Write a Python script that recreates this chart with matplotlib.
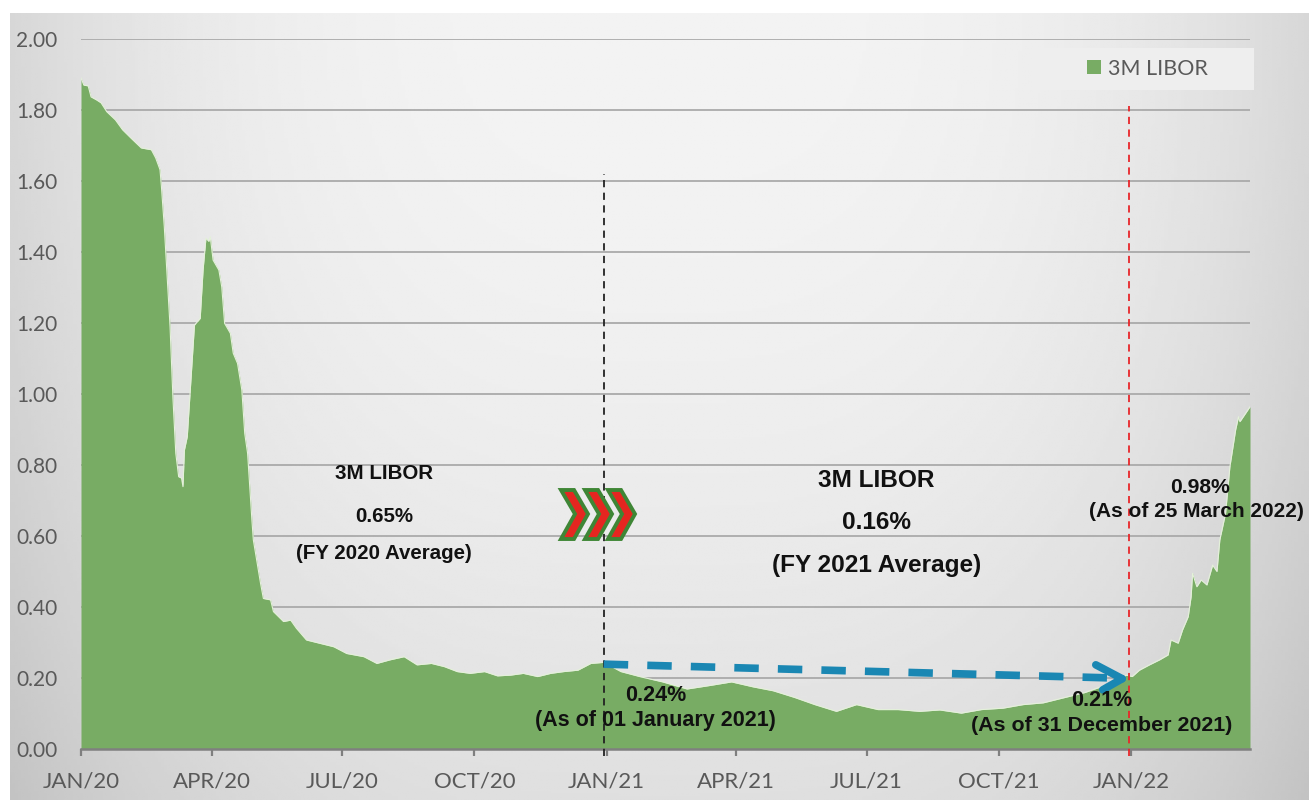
import numpy as np
import pandas as pd
import matplotlib.pyplot as plt
from matplotlib.patches import Polygon, Rectangle

plt.rcParams["font.family"] = ["Lato", "DejaVu Sans"]

# 3M LIBOR
DATES = [
    "2020-01-01", "2020-01-03", "2020-01-06", "2020-01-08", "2020-01-12", "2020-01-15",
    "2020-01-19", "2020-01-25", "2020-01-30", "2020-02-05", "2020-02-12", "2020-02-19",
    "2020-02-22", "2020-02-25", "2020-02-26", "2020-02-28", "2020-03-01", "2020-03-03",
    "2020-03-05", "2020-03-07", "2020-03-09", "2020-03-11", "2020-03-12", "2020-03-13",
    "2020-03-15", "2020-03-18", "2020-03-20", "2020-03-24", "2020-03-26", "2020-03-28",
    "2020-03-30", "2020-03-31", "2020-04-02", "2020-04-06", "2020-04-08", "2020-04-10",
    "2020-04-14", "2020-04-16", "2020-04-19", "2020-04-22", "2020-04-24", "2020-04-26",
    "2020-04-29", "2020-04-30", "2020-05-05", "2020-05-07", "2020-05-12", "2020-05-14",
    "2020-05-21", "2020-05-26", "2020-05-30", "2020-06-06", "2020-06-15", "2020-06-25",
    "2020-07-04", "2020-07-16", "2020-07-25", "2020-08-03", "2020-08-13", "2020-08-22",
    "2020-09-01", "2020-09-10", "2020-09-19", "2020-09-28", "2020-10-08", "2020-10-17",
    "2020-10-26", "2020-11-04", "2020-11-14", "2020-11-23", "2020-12-02", "2020-12-12",
    "2020-12-21", "2020-12-30",
    "2021-01-11", "2021-01-25", "2021-02-09", "2021-02-26", "2021-03-14", "2021-03-29",
    "2021-04-13", "2021-04-27", "2021-05-12", "2021-05-26", "2021-06-10", "2021-06-24",
    "2021-07-09", "2021-07-23", "2021-08-07", "2021-08-21", "2021-09-05", "2021-09-19",
    "2021-10-04", "2021-10-18", "2021-11-01", "2021-11-16", "2021-11-30", "2021-12-14",
    "2021-12-29",
    "2022-01-02", "2022-01-07", "2022-01-14", "2022-01-21", "2022-01-27", "2022-01-29",
    "2022-02-03", "2022-02-06", "2022-02-10", "2022-02-12", "2022-02-13", "2022-02-16",
    "2022-02-19", "2022-02-23", "2022-02-27", "2022-03-02", "2022-03-04", "2022-03-08",
    "2022-03-11", "2022-03-15", "2022-03-17", "2022-03-18", "2022-03-22", "2022-03-25",
]
RATES = [
    1.89, 1.87, 1.868, 1.837, 1.828, 1.82,
    1.795, 1.772, 1.744, 1.72, 1.693, 1.688,
    1.665, 1.632, 1.584, 1.471, 1.33, 1.19,
    0.99, 0.833, 0.767, 0.763, 0.739, 0.842,
    0.88, 1.068, 1.194, 1.213, 1.349, 1.439,
    1.43, 1.443, 1.377, 1.349, 1.302, 1.199,
    1.171, 1.115, 1.086, 1.011, 0.889, 0.833,
    0.645, 0.589, 0.467, 0.424, 0.42, 0.387,
    0.359, 0.363, 0.34, 0.307, 0.298, 0.288,
    0.269, 0.26, 0.241, 0.251, 0.26, 0.237,
    0.241, 0.232, 0.218, 0.213, 0.218, 0.206,
    0.208, 0.213, 0.204, 0.213, 0.218, 0.222,
    0.241, 0.244,
    0.218, 0.203, 0.189, 0.169, 0.179, 0.189,
    0.175, 0.164, 0.145, 0.125, 0.106, 0.125,
    0.111, 0.111, 0.106, 0.11, 0.101, 0.111,
    0.115, 0.125, 0.13, 0.145, 0.159, 0.179,
    0.208,
    0.204, 0.222, 0.237, 0.251, 0.265, 0.307,
    0.298, 0.335, 0.373, 0.429, 0.495, 0.457,
    0.476, 0.462, 0.518, 0.5, 0.589, 0.664,
    0.795, 0.899, 0.936, 0.922, 0.946, 0.964,
]

TICK_DATES = ["2020-01-01", "2020-04-01", "2020-07-01", "2020-10-01", "2021-01-01",
              "2021-04-01", "2021-07-01", "2021-10-01", "2022-01-01"]
TICK_LABELS = ["JAN/20", "APR/20", "JUL/20", "OCT/20", "JAN/21",
               "APR/21", "JUL/21", "OCT/21", "JAN/22"]
Y_TICKS = [0.0, 0.2, 0.4, 0.6, 0.8, 1.0, 1.2, 1.4, 1.6, 1.8, 2.0]

START_MARK = "2020-12-30"   # 0.24% start of 2021
END_MARK = "2021-12-31"     # 0.21% end of 2021
START_RATE, END_RATE = 0.239, 0.198

C_AREA = "#78ac64"
C_TEXT = "#111111"
C_TICK = "#595959"
C_GRID = "#aaaaaa"
C_BLUE = "#1a87b3"

dates = pd.to_datetime(DATES)
W, H = 1309, 800
fig = plt.figure(figsize=(W / 100, H / 100), dpi=100, facecolor="white")

# soft grey gradient panel behind the chart
bg = fig.add_axes([10 / W, 0, 1 - 10 / W, 1 - 13 / H], zorder=0)
U, V = np.meshgrid(np.linspace(0, 1, 400), np.linspace(0, 1, 300))
shade = 243 - 28 * np.abs(2 * U - 1) ** 3 - 20 * V ** 2
bg.imshow(shade, cmap="gray", vmin=0, vmax=255, aspect="auto",
          extent=[0, 1, 0, 1], origin="upper")
bg.axis("off")

ax = fig.add_axes([81 / W, 1 - 749 / H, 1169 / W, 710 / H], zorder=1)
ax.patch.set_alpha(0)

ax.fill_between(dates, RATES, 0, color=C_AREA, lw=0, zorder=2, label="3M LIBOR")
ax.plot(dates, RATES, color="#e4f1d9", lw=0.8, zorder=2.5)

ax.set_xlim(dates[0], dates[-1])
ax.set_ylim(0, 2.0)
ax.set_yticks(Y_TICKS)
ax.set_yticklabels([f"{t:.2f}" for t in Y_TICKS])
ax.set_xticks(pd.to_datetime(TICK_DATES))
ax.set_xticklabels(TICK_LABELS)
ax.set_axisbelow(True)
ax.grid(axis="y", color=C_GRID, lw=1.3)
ax.grid(axis="x", visible=False)
for side in ("top", "left", "right"):
    ax.spines[side].set_visible(False)
ax.spines["bottom"].set_color("#7f7f7f")
ax.spines["bottom"].set_linewidth(1.8)
ax.spines["bottom"].set_zorder(3)
ax.tick_params(axis="x", direction="out", length=5, width=1.6, color="#7f7f7f",
               labelsize=16, labelcolor=C_TICK, pad=11)
ax.tick_params(axis="y", length=0, labelsize=15, labelcolor=C_TICK, pad=17)

# reference markers
x0, x1 = pd.Timestamp(START_MARK), pd.Timestamp(END_MARK)
ax.plot([x0, x0], [-0.02, 1.62], color="#222222", lw=1.3, ls=(0, (4, 3)),
        clip_on=False, zorder=4)
ax.plot([x1, x1], [-0.02, 1.81], color="#e8262a", lw=1.3, ls=(0, (4, 3)),
        clip_on=False, zorder=4)

# dashed blue arrow from start-of-year to end-of-year level
tip = x1 - pd.Timedelta(days=5)
ax.plot([x0, tip - pd.Timedelta(days=6)], [START_RATE, END_RATE + 0.002],
        color=C_BLUE, lw=5.5, ls=(0, (3.2, 2.5)), solid_capstyle="butt", zorder=5)
for dx, dy in ((-19, 10), (-14, -8)):
    ax.annotate("", xy=(tip, END_RATE), xytext=(dx, dy), textcoords="offset points",
                arrowprops=dict(arrowstyle="-", lw=5.5, color=C_BLUE,
                                shrinkA=0, shrinkB=0, capstyle="round"),
                zorder=5)

# chevrons
chev = np.array([(0, 0), (13, 0), (27, 24), (13, 49), (0, 49), (14, 24)], float)
for off in (0, 24, 47):
    pts = [((561 + off + px) / W, 1 - (490 + py) / H) for px, py in chev]
    fig.add_artist(Polygon(pts, closed=True, transform=fig.transFigure,
                           facecolor="#e52620", edgecolor="#3e8635", lw=2.8,
                           zorder=6))

# text annotations
bold = dict(ha="center", va="center", color=C_TEXT, fontweight="bold",
            family=["Liberation Sans", "DejaVu Sans"], zorder=7)
ax.text(pd.Timestamp("2020-07-30"), 0.775, "3M LIBOR", fontsize=14.8, **bold)
ax.text(pd.Timestamp("2020-07-30"), 0.654, "0.65%", fontsize=14.8, **bold)
ax.text(pd.Timestamp("2020-07-30"), 0.552, "(FY 2020 Average)", fontsize=14.8, **bold)
ax.text(pd.Timestamp("2021-07-08"), 0.755, "3M LIBOR", fontsize=17.6, **bold)
ax.text(pd.Timestamp("2021-07-08"), 0.637, "0.16%", fontsize=17.6, **bold)
ax.text(pd.Timestamp("2021-07-08"), 0.518, "(FY 2021 Average)", fontsize=17.6, **bold)
ax.text(pd.Timestamp("2021-02-04"), 0.152, "0.24%", fontsize=15.5, **bold)
ax.text(pd.Timestamp("2021-02-04"), 0.079, "(As of 01 January 2021)", fontsize=15.5, **bold)
ax.text(pd.Timestamp("2021-12-12"), 0.138, "0.21%", fontsize=15.5, **bold)
ax.text(pd.Timestamp("2021-12-12"), 0.065, "(As of 31 December 2021)", fontsize=15.4, **bold)
ax.text(pd.Timestamp("2022-02-18"), 0.738, "0.98%", fontsize=15.2, **bold)
ax.text(pd.Timestamp("2022-02-16"), 0.668, "(As of 25 March 2022)", fontsize=15.0, **bold)

# legend on a pale panel
ax.add_patch(Rectangle((0.8135, 0.928), 0.19, 0.059, transform=ax.transAxes,
                       facecolor="#eeeeee", edgecolor="none", clip_on=False, zorder=5))
leg = ax.legend(loc="center left", bbox_to_anchor=(0.8605, 0.958), frameon=False,
                fontsize=15.5, handlelength=0.65, handleheight=0.65, handletextpad=0.35,
                borderaxespad=0, borderpad=0)
leg.set_zorder(6)
for t in leg.get_texts():
    t.set_color(C_TICK)

fig.savefig("out.png", dpi=100, facecolor="white")
